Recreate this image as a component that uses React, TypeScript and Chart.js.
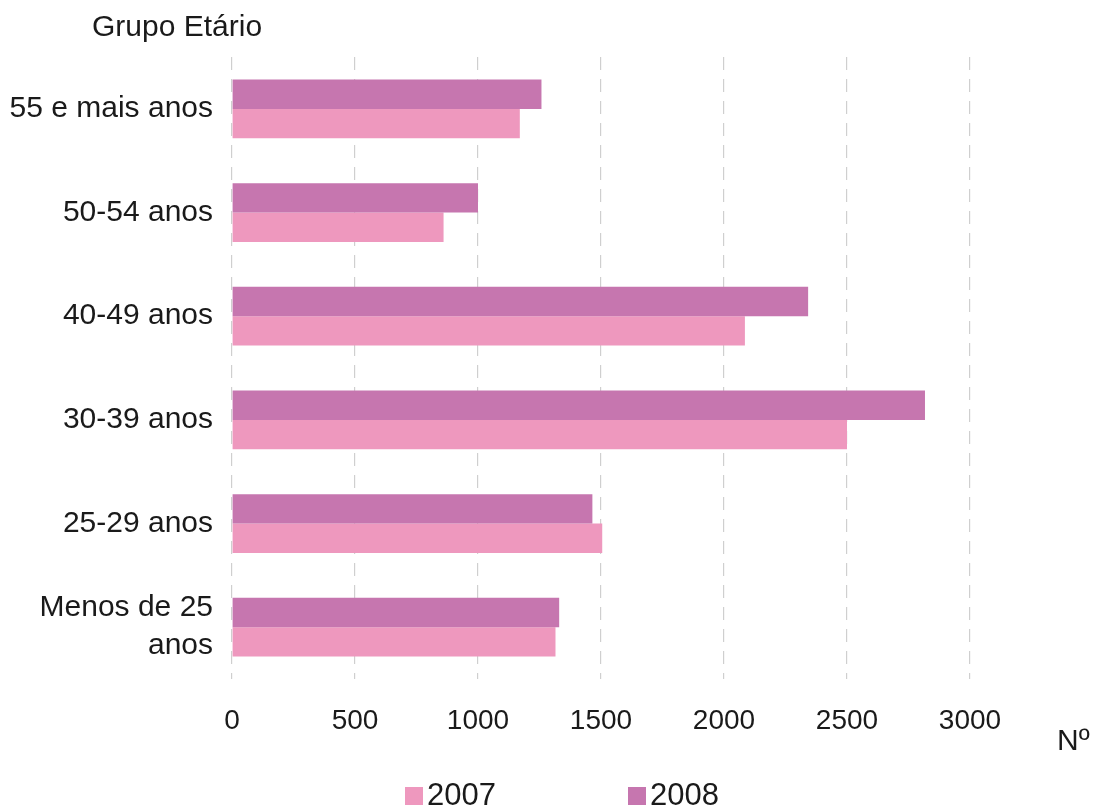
import React, { useEffect, useRef } from "react";
import { Chart, registerables } from "chart.js";

Chart.register(...registerables);

const categories: (string | string[])[] = [
  "55 e mais anos",
  "50-54 anos",
  "40-49 anos",
  "30-39 anos",
  "25-29 anos",
  ["Menos de 25", "anos"],
];
const values2007 = [1170, 860, 2085, 2500, 1505, 1315];
const values2008 = [1258, 1000, 2342, 2817, 1465, 1330];
const seriesLabels = ["2007", "2008"];
const xTicks = [0, 500, 1000, 1500, 2000, 2500, 3000];
const yAxisTitle = "Grupo Etário";
const xAxisTitle = "Nº";

const COLOR_2007 = "#EE98BE";
const COLOR_2008 = "#C676AF";
const FONT = "'Liberation Sans', Arial, sans-serif";
const TEXT = "#1a1a1a";

const extrasPlugin = {
  id: "extras",
  afterDraw(chart: any) {
    const ctx = chart.ctx;
    ctx.save();
    ctx.fillStyle = TEXT;
    ctx.textBaseline = "middle";
    ctx.textAlign = "left";
    ctx.font = `30px ${FONT}`;
    ctx.fillText(yAxisTitle, 92, 28);
    ctx.font = `30px ${FONT}`;
    ctx.fillText(xAxisTitle, 1057, 742);
    // custom legend
    const items = [
      { label: seriesLabels[0], color: COLOR_2007, x: 405 },
      { label: seriesLabels[1], color: COLOR_2008, x: 628 },
    ];
    const cy = 796;
    for (const it of items) {
      ctx.fillStyle = it.color;
      ctx.fillRect(it.x, cy - 9, 18, 18);
      ctx.fillStyle = TEXT;
      ctx.font = `31px ${FONT}`;
      ctx.fillText(it.label, it.x + 22, cy);
    }
    ctx.restore();
  },
};

export default function App() {
  const ref = useRef<HTMLCanvasElement | null>(null);
  useEffect(() => {
    if (!ref.current) return;
    const chart = new Chart(ref.current, {
      type: "bar",
      data: {
        labels: categories,
        datasets: [
          {
            label: seriesLabels[1],
            data: values2008,
            backgroundColor: COLOR_2008,
            borderWidth: 0,
          },
          {
            label: seriesLabels[0],
            data: values2007,
            backgroundColor: COLOR_2007,
            borderWidth: 0,
          },
        ],
      },
      options: {
        indexAxis: "y",
        animation: false,
        responsive: false,
        maintainAspectRatio: false,
        layout: { padding: { left: 0, right: 124, top: 53, bottom: 0 } },
        datasets: {
          bar: { categoryPercentage: 0.567, barPercentage: 1.0 },
        },
        plugins: {
          legend: { display: false },
          tooltip: { enabled: false },
          title: { display: false },
        },
        scales: {
          x: {
            type: "linear",
            min: 0,
            max: 3000,
            afterFit: (scale: any) => {
              scale.height = 128;
            },
            afterBuildTicks: (scale: any) => {
              scale.ticks = xTicks.map((v) => ({ value: v }));
            },
            ticks: {
              padding: 25,
              color: TEXT,
              font: { family: FONT, size: 28 },
              callback: (v: any) => String(v),
            },
            grid: {
              display: true,
              drawTicks: false,
              color: "#cfcfcf",
              lineWidth: 1.2,
            },
            border: { display: false, dash: [13, 9] },
          },
          y: {
            type: "category",
            afterFit: (scale: any) => {
              scale.width = 232;
            },
            ticks: {
              padding: 19,
              color: TEXT,
              font: { family: FONT, size: 30, lineHeight: 1.27 },
            },
            grid: { display: false, drawTicks: false },
            border: { display: false },
          },
        },
      },
      plugins: [extrasPlugin],
    });
    return () => chart.destroy();
  }, []);
  return (
    <div style={{ position: "fixed", left: 0, top: 0, width: 1094, height: 807, background: "#fff" }}>
      <canvas ref={ref} width={1094} height={807} style={{ width: 1094, height: 807 }} />
    </div>
  );
}
